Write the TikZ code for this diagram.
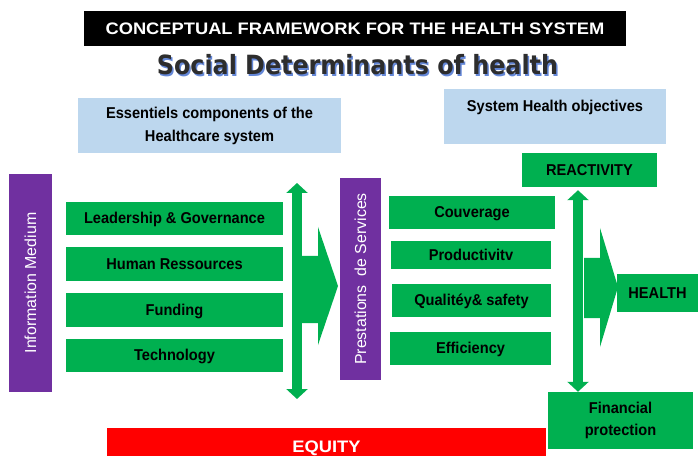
\documentclass[tikz,border=0pt]{standalone}
\usepackage{fontspec}
\setmainfont{Liberation Sans}
\newfontfamily\barfont{Liberation Sans}[FakeStretch=0.93]
\newfontfamily\bannerfont{Liberation Sans}[FakeStretch=1.1]
\newfontfamily\headfont{DejaVu Sans Condensed}
\usepackage{tikz}
\usetikzlibrary{arrows.meta}
\definecolor{hgreen}{RGB}{0,176,80}
\definecolor{hpurple}{RGB}{112,48,160}
\definecolor{hblue}{RGB}{189,215,238}
\definecolor{hred}{RGB}{255,0,0}
\definecolor{headgrey}{RGB}{45,45,45}
\definecolor{headshadow}{RGB}{100,135,215}
\newcommand{\px}{0.03cm}

\begin{document}
\begin{tikzpicture}[x=\px, y=-\px,
    bar/.style={fill=hgreen, inner sep=0pt, font=\barfont\bfseries\fontsize{13.4}{16}\selectfont, text height=12.1pt, text depth=2.8pt},
    infobox/.style={fill=hblue, inner sep=0pt, font=\barfont\bfseries\fontsize{13.4}{19.1}\selectfont},
    sidebar/.style={fill=hpurple, text=white, inner sep=0pt, rotate=90, font=\fontsize{13.6}{16}\selectfont},
    banner/.style={inner sep=0pt, font=\bannerfont\bfseries\fontsize{14.2}{17}\selectfont, text height=12.8pt, text depth=3pt},
    headline/.style={anchor=base, font=\headfont\bfseries\fontsize{22.6}{26}\selectfont},
    dblarrow/.style={hgreen, line width=0.3cm, {Triangle[width=0.63cm,length=0.3cm]}-{Triangle[width=0.63cm,length=0.3cm]}}]
    \useasboundingbox (0,0) rectangle (698,456);
    \clip (0,0) rectangle (698,456);

    % titles
    \node[banner, fill=black, text=white, minimum width=542*\px, minimum height=35*\px] (frame) at (355,28.5) {CONCEPTUAL FRAMEWORK FOR THE HEALTH SYSTEM};
    \node[headline, text=headshadow] (socialshadow) at (359,76.5) {Social Determinants of health};
    \node[headline, text=headgrey] (social) at (357.5,75) {Social Determinants of health};
    \node[infobox, align=center, minimum width=263*\px, minimum height=55*\px] (components) at (209.5,126) {Essentiels components of the\\Healthcare system};
    \node[infobox, minimum width=222*\px, minimum height=55*\px] (objectives) at (555,116.5) {};
    \node[anchor=base, font=\barfont\bfseries\fontsize{13.4}{16}\selectfont] (objtitle) at (555,111.7) {System Health objectives};

    % building blocks
    \node[sidebar, minimum width=218*\px, minimum height=43*\px] (infomed) at (30.5,283) {Information Medium};
    \node[bar, minimum width=217*\px, minimum height=33*\px] (lead) at (174.5,218.5) {Leadership \& Governance};
    \node[bar, minimum width=217*\px, minimum height=34*\px] (human) at (174.5,264) {Human Ressources};
    \node[bar, minimum width=217*\px, minimum height=34*\px] (funding) at (174.5,310) {Funding};
    \node[bar, minimum width=217*\px, minimum height=33*\px] (tech) at (174.5,355.5) {Technology};
    \coordinate (blocktop) at (297,183);
    \coordinate (blockbot) at (297,399);
    \draw[dblarrow] (blocktop) -- (blockbot);
    \fill[hgreen] (302,256) -- (318,256) -- (318,227) -- (338,286) -- (318,345) -- (318,323) -- (302,323) -- cycle;

    % services
    \node[sidebar, minimum width=202*\px, minimum height=41*\px] (prest) at (360.5,279) {Prestations~ de Services};
    \node[bar, minimum width=166*\px, minimum height=33*\px] (couv) at (472,212.5) {Couverage};
    \node[bar, minimum width=160*\px, minimum height=28*\px] (prod) at (471,255) {Productivitv};
    \node[bar, minimum width=159*\px, minimum height=33*\px] (qual) at (471.5,300.5) {Qualitéy\& safety};
    \node[bar, minimum width=161*\px, minimum height=33*\px] (eff) at (470.5,348.5) {Efficiency};

    % objectives
    \node[bar, minimum width=135*\px, minimum height=34*\px] (react) at (589.5,170) {REACTIVITY};
    \node[bar, align=center, text height=, text depth=, font=\barfont\bfseries\fontsize{13.4}{18.8}\selectfont, minimum width=145*\px, minimum height=57*\px] (fin) at (620.5,420.5) {Financial\\protection};
    \node[bar, minimum width=81*\px, minimum height=38*\px] (health) at (657.5,293) {HEALTH};
    \coordinate (objaxis) at (578,0);
    \draw[dblarrow, shorten <=0.09cm] (react.south -| objaxis) -- (fin.north -| objaxis);
    \fill[hgreen] (584,258) -- (600,258) -- (600,228) -- (618,287) -- (600,347) -- (600,318) -- (584,318) -- cycle;

    \node[banner, fill=hred, text=white, minimum width=439*\px, minimum height=37.4*\px] (equity) at (326.5,446.7) {EQUITY};
\end{tikzpicture}
\end{document}
